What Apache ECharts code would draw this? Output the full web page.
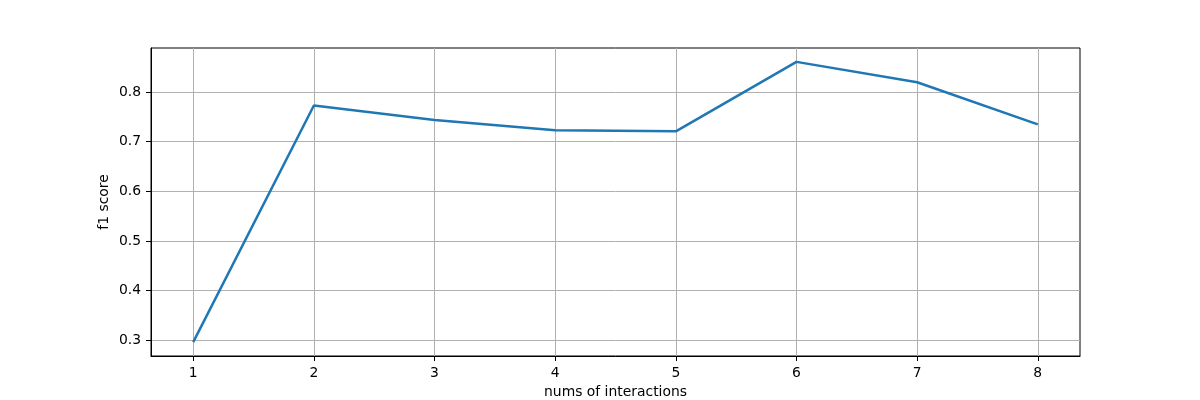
<!DOCTYPE html>
<html>
<head>
<meta charset="utf-8">
<script src="https://cdn.jsdelivr.net/npm/echarts@6/dist/echarts.min.js"></script>
<style>html,body{margin:0;padding:0;background:#fff}#c{width:1200px;height:400px}</style>
</head>
<body>
<div id="c"></div>
<script>
const xValues = [1, 2, 3, 4, 5, 6, 7, 8];
const f1Scores = [0.296, 0.773, 0.744, 0.723, 0.721, 0.861, 0.820, 0.735];
const xTicks = [1, 2, 3, 4, 5, 6, 7, 8];
const yTicks = [0.3, 0.4, 0.5, 0.6, 0.7, 0.8];

const font = 'DejaVu Sans';
const chart = echarts.init(document.getElementById('c'), null, {renderer: 'canvas'});
chart.setOption({
  animation: false,
  backgroundColor: '#ffffff',
  grid: {left: 151, right: 120, top: 48, bottom: 44, containLabel: false, outerBoundsMode: 'none', show: true, borderColor: '#000', borderWidth: 1, backgroundColor: 'transparent'},
  xAxis: {
    type: 'value', min: 0.65, max: 8.35,
    name: 'nums of interactions', nameLocation: 'middle', nameGap: 29, nameMoveOverlap: false,
    nameTextStyle: {fontFamily: font, fontSize: 13.9, color: '#000'},
    axisLine: {show: true, onZero: false, lineStyle: {color: '#000', width: 1}},
    axisTick: {show: true, length: 5, lineStyle: {color: '#000', width: 1}, customValues: xTicks},
    axisLabel: {fontFamily: font, fontSize: 13.9, color: '#000', margin: 10, customValues: xTicks, formatter: v => String(v)},
    splitLine: {show: true, lineStyle: {color: '#b0b0b0', width: 1}}
  },
  yAxis: {
    type: 'value', min: 0.268, max: 0.889,
    name: 'f1 score', nameLocation: 'middle', nameGap: 40, nameRotate: 90, nameMoveOverlap: false,
    nameTextStyle: {fontFamily: font, fontSize: 13.9, color: '#000'},
    axisLine: {show: true, onZero: false, lineStyle: {color: '#000', width: 1}},
    axisTick: {show: true, length: 5, lineStyle: {color: '#000', width: 1}, customValues: yTicks},
    axisLabel: {fontFamily: font, fontSize: 13.9, color: '#000', margin: 10, customValues: yTicks, formatter: v => v.toFixed(1)},
    splitLine: {show: true, lineStyle: {color: '#b0b0b0', width: 1}}
  },
  series: [{
    type: 'line',
    data: xValues.map((x, i) => [x, f1Scores[i]]),
    showSymbol: false,
    lineStyle: {color: '#1f77b4', width: 2.5},
    itemStyle: {color: '#1f77b4'}
  }]
});
</script>
</body>
</html>
